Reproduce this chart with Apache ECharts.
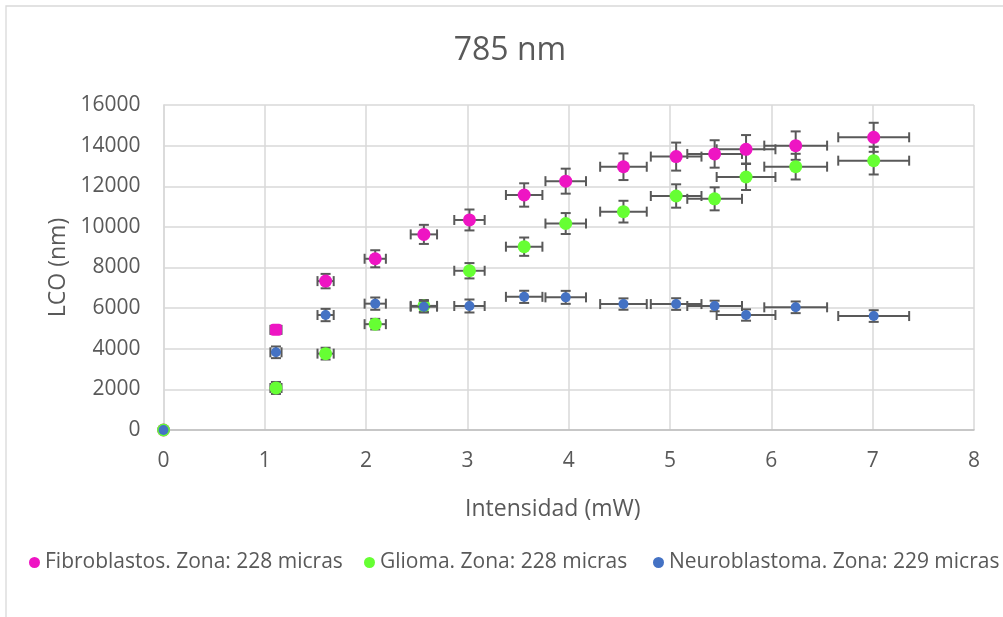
<!DOCTYPE html>
<html>
<head>
<meta charset="utf-8">
<script src="https://cdn.jsdelivr.net/npm/echarts@6/dist/echarts.min.js"></script>
<style>
  html, body { margin: 0; padding: 0; background: #ffffff; }
  #chart { width: 1003px; height: 617px; }
</style>
</head>
<body>
<div id="chart"></div>
<script>
// Laser intensity (mW) and its uncertainty, shared by the three cell lines
const intensidad    = [0, 1.11, 1.6, 2.09, 2.57, 3.02, 3.56, 3.97, 4.54, 5.06, 5.44, 5.75, 6.24, 7.01];
const intensidadErr = [0, 0.055, 0.08, 0.105, 0.13, 0.15, 0.18, 0.2, 0.23, 0.25, 0.27, 0.29, 0.31, 0.35];

// LCO (nm) per cell line, with its uncertainty
const fibroblastos    = [0, 4930, 7330, 8430, 9630, 10340, 11570, 12250, 12960, 13460, 13590, 13820, 14000, 14410];
const fibroblastosErr = [0, 0, 355, 420, 470, 515, 575, 615, 655, 690, 675, 700, 700, 715];

const glioma    = [0, 2070, 3760, 5210, 6110, 7840, 9025, 10165, 10750, 11520, 11380, 12455, 12965, 13260];
const gliomaErr = [0, 295, 290, 262, 290, 378, 451, 515, 535, 575, 566, 640, 632, 681];

const neuroblastoma    = [0, 3825, 5660, 6220, 6070, 6105, 6555, 6530, 6200, 6200, 6105, 5660, 6040, 5610];
const neuroblastomaErr = [0, 287, 303, 303, 287, 320, 300, 320, 280, 287, 260, 279, 287, 287];

const seriesNames = [
  'Fibroblastos. Zona: 228 micras',
  'Glioma. Zona: 228 micras',
  'Neuroblastoma. Zona: 229 micras'
];
const xTicks = [0, 1, 2, 3, 4, 5, 6, 7, 8];
const yTicks = [0, 2000, 4000, 6000, 8000, 10000, 12000, 14000, 16000];

const FONT = '"Open Sans", "Noto Sans", sans-serif';
const TEXT = '#595959';
const GRID = '#D9D9D9';

const lines = [
  { name: seriesNames[0], y: fibroblastos,  err: fibroblastosErr,  color: '#EE15C3', size: 13 },
  { name: seriesNames[1], y: glioma,        err: gliomaErr,        color: '#66FF33', size: 13 },
  { name: seriesNames[2], y: neuroblastoma, err: neuroblastomaErr, color: '#4472C4', size: 10 }
];

// Error bars: horizontal and vertical whiskers with end caps
function errorBars(params, api) {
  const x = api.value(0), y = api.value(1), ex = api.value(2), ey = api.value(3);
  const cap = 5;
  const kids = [];
  const st = { stroke: '#595959', lineWidth: 2 };
  if (ex > 0) {
    const l = api.coord([x - ex, y]), r = api.coord([x + ex, y]);
    kids.push({ type: 'line', shape: { x1: l[0], y1: l[1], x2: r[0], y2: r[1] }, style: st });
    kids.push({ type: 'line', shape: { x1: l[0], y1: l[1] - cap, x2: l[0], y2: l[1] + cap }, style: st });
    kids.push({ type: 'line', shape: { x1: r[0], y1: r[1] - cap, x2: r[0], y2: r[1] + cap }, style: st });
  }
  if (ey > 0) {
    const t = api.coord([x, y + ey]), b = api.coord([x, y - ey]);
    kids.push({ type: 'line', shape: { x1: t[0], y1: t[1], x2: b[0], y2: b[1] }, style: st });
    kids.push({ type: 'line', shape: { x1: t[0] - cap, y1: t[1], x2: t[0] + cap, y2: t[1] }, style: st });
    kids.push({ type: 'line', shape: { x1: b[0] - cap, y1: b[1], x2: b[0] + cap, y2: b[1] }, style: st });
  }
  return { type: 'group', children: kids };
}

const series = [];
lines.forEach((s, i) => {
  series.push({
    type: 'custom',
    name: s.name + ' (error)',
    renderItem: errorBars,
    data: intensidad.map((x, k) => [x, s.y[k], intensidadErr[k], s.err[k]]),
    encode: { x: 0, y: 1 },
    z: 2 + i * 2,
    silent: true
  });
  series.push({
    type: 'scatter',
    name: s.name,
    data: intensidad.map((x, k) => {
      const item = { value: [x, s.y[k]] };
      // the first fibroblast reading is drawn as a block
      if (i === 0 && k === 1) { item.symbol = 'roundRect'; item.symbolSize = 12; }
      return item;
    }),
    symbol: 'circle',
    symbolSize: s.size,
    itemStyle: { color: s.color, opacity: 1 },
    z: 3 + i * 2
  });
});

const legendLefts = [29, 364, 653];
const legends = lines.map((s, i) => ({
  data: [s.name],
  left: legendLefts[i],
  top: 552,
  padding: 0,
  icon: 'circle',
  itemWidth: 11,
  itemHeight: 11,
  itemGap: 0,
  textStyle: { fontFamily: FONT, fontSize: 21, color: TEXT },
  selectedMode: false
}));

const chart = echarts.init(document.getElementById('chart'), null, { renderer: 'canvas' });
chart.setOption({
  animation: false,
  backgroundColor: '#ffffff',
  textStyle: { fontFamily: FONT },
  graphic: [{
    type: 'rect',
    shape: { x: 6, y: 6, width: 1200, height: 800 },
    style: { fill: 'none', stroke: GRID, lineWidth: 1.3 },
    silent: true,
    z: -10
  }],
  title: {
    text: '785 nm',
    left: 510,
    top: 35,
    padding: 0,
    textAlign: 'center',
    textStyle: { fontFamily: FONT, fontSize: 32, fontWeight: 'normal', color: TEXT }
  },
  legend: legends,
  grid: { left: 163.5, right: 29, top: 105, bottom: 187, containLabel: false },
  xAxis: {
    type: 'value',
    min: xTicks[0],
    max: xTicks[xTicks.length - 1],
    interval: 1,
    name: 'Intensidad (mW)',
    nameLocation: 'middle',
    nameGap: 68,
    nameTextStyle: { fontFamily: FONT, fontSize: 23, color: TEXT, padding: [0, 32, 0, 0] },
    axisLine: { show: true, onZero: false, lineStyle: { color: '#BFBFBF', width: 1.5 } },
    axisTick: { show: false },
    axisLabel: { fontFamily: FONT, fontSize: 21, color: TEXT, margin: 21 },
    splitLine: { show: true, lineStyle: { color: GRID, width: 1.5 } }
  },
  yAxis: {
    type: 'value',
    min: yTicks[0],
    max: yTicks[yTicks.length - 1],
    interval: 2000,
    name: 'LCO (nm)',
    nameLocation: 'middle',
    nameGap: 86,
    nameTextStyle: { fontFamily: FONT, fontSize: 23, color: TEXT },
    axisLine: { show: true, lineStyle: { color: GRID, width: 1.5 } },
    axisTick: { show: false },
    axisLabel: { fontFamily: FONT, fontSize: 21, color: TEXT, margin: 23, formatter: v => String(v) },
    splitLine: { show: true, lineStyle: { color: GRID, width: 1.5 } }
  },
  series: series
});
</script>
</body>
</html>
